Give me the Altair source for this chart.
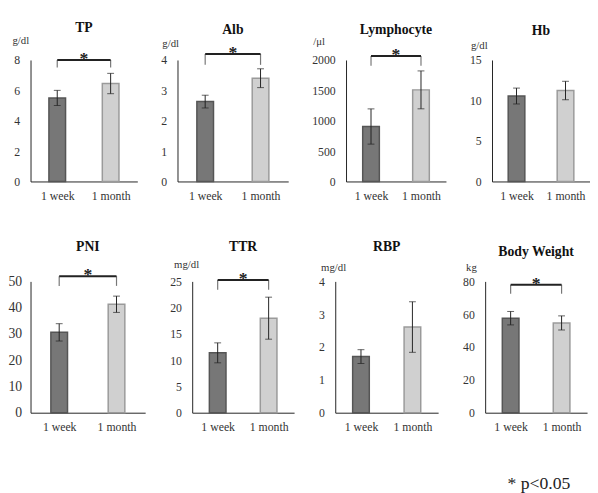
import altair as alt
import pandas as pd

# ---------------- data ----------------
titles = ["TP", "Alb", "Lymphocyte", "Hb", "PNI", "TTR", "RBP", "Body Weight"]
units = ["g/dl", "g/dl", "/μl", "g/dl", "", "mg/dl", "mg/dl", "kg"]
groups = ["1 week", "1 month"]
y_max = [8, 4, 2000, 15, 50, 25, 4, 80]
y_step = [2, 1, 500, 5, 10, 5, 1, 20]
week_mean = [5.5, 2.63, 905, 10.55, 30.6, 11.4, 1.71, 57.6]
week_err = [0.5, 0.21, 290, 0.98, 3.3, 1.9, 0.21, 4.1]
month_mean = [6.45, 3.40, 1508, 11.23, 41.3, 18.0, 2.61, 54.7]
month_err = [0.67, 0.31, 312, 1.14, 3.1, 4.0, 0.77, 4.3]
significant = [True, True, True, False, True, True, False, True]
bracket_top = [8.0, 4.2, 2064, 0, 52, 25.25, 0, 78]
bracket_bottom = [7.5, 3.84, 1904, 0, 48.3, 23.4, 0, 72.5]
star = "*"
footnote = "* p<0.05"

# ---------------- layout / style ----------------
widths = [109, 113, 102, 100, 117, 104, 105, 104]
row_heights = [124, 134]
row_spacing = [24, 25]
title_dy = [-33, -31, -31, -29, -35, -35, -35, -30]
unit_x = [-19, -16, -34, -22, 0, -19, -15, -20]
unit_y = [-20, -17, -19, -15, 0, -17, -14, -14]
label_sizes = [12, 12, 12, 12, 14, 12, 12, 12]
label_pads = [11, 11, 11, 11, 9, 11, 11, 11]
FONT = "Liberation Serif"
fills = ["#777777", "#d0d0d0"]
strokes = ["#555555", "#9a9a9a"]

label_expr = " : ".join(
    [f"datum.value == {k} ? '{g}'" for k, g in enumerate(groups[:-1])] + [f"'{groups[-1]}'"]
)


def panel(i, height):
    means = [week_mean[i], month_mean[i]]
    errs = [week_err[i], month_err[i]]
    df = pd.DataFrame({
        "x": list(range(len(groups))),
        "g": groups,
        "mean": means,
        "lo": [m - e for m, e in zip(means, errs)],
        "hi": [m + e for m, e in zip(means, errs)],
    })
    xscale = alt.Scale(domain=[-0.5, len(groups) - 0.5], nice=False, padding=0)
    yscale = alt.Scale(domain=[0, y_max[i]], nice=False, padding=0)
    xaxis = alt.Axis(values=list(range(len(groups))), labelExpr=label_expr, title=None,
                     ticks=False, grid=False, domainColor="#222", domainWidth=1,
                     labelFont=FONT, labelFontSize=12, labelColor="#333",
                     labelPadding=9)
    yaxis_kw = dict(values=list(range(0, y_max[i] + 1, y_step[i])), format="d",
                    ticks=False, grid=False, domainColor="#222", domainWidth=1,
                    labelFont=FONT, labelFontSize=label_sizes[i], labelColor="#333",
                    labelPadding=label_pads[i])
    if units[i]:
        yaxis_kw.update(title=units[i], titleAngle=0, titleAlign="left",
                        titleBaseline="middle", titleX=unit_x[i], titleY=unit_y[i],
                        titleFont=FONT, titleFontSize=11, titleFontWeight="normal",
                        titleColor="#333")
    else:
        yaxis_kw.update(title=None)
    yaxis = alt.Axis(**yaxis_kw)

    def X(f):
        return alt.X(f, scale=xscale, axis=xaxis)

    def Y(f):
        return alt.Y(f, scale=yscale, axis=yaxis)

    base = alt.Chart(df)
    bars = base.mark_bar(size=17, strokeWidth=1.5).encode(
        x=X("x:Q"),
        y=Y("mean:Q"),
        fill=alt.Fill("g:N", scale=alt.Scale(domain=groups, range=fills), legend=None),
        stroke=alt.Stroke("g:N", scale=alt.Scale(domain=groups, range=strokes), legend=None),
    )
    err = base.mark_rule(color="#222", strokeWidth=1).encode(
        x=X("x:Q"), y=Y("lo:Q"), y2="hi:Q")
    cap_lo = base.mark_tick(orient="horizontal", size=7, thickness=1, color="#222").encode(
        x=X("x:Q"), y=Y("lo:Q"))
    cap_hi = base.mark_tick(orient="horizontal", size=7, thickness=1, color="#222").encode(
        x=X("x:Q"), y=Y("hi:Q"))

    tdf = pd.DataFrame({"tx": [(len(groups) - 1) / 2], "ty": [y_max[i]], "t": [titles[i]]})
    ttl = alt.Chart(tdf).mark_text(font=FONT, fontSize=14, fontWeight="bold",
                                   baseline="middle", align="center",
                                   dy=title_dy[i], color="#111").encode(
        x=X("tx:Q"), y=Y("ty:Q"), text="t:N")
    layers = [bars, err, cap_lo, cap_hi, ttl]

    if significant[i]:
        bdf = pd.DataFrame({"x0": [0], "x1": [len(groups) - 1], "top": [bracket_top[i]],
                            "sx": [(len(groups) - 1) / 2], "s": [star]})
        vdf = pd.DataFrame({"x": [0, len(groups) - 1], "top": [bracket_top[i]] * 2,
                            "bottom": [bracket_bottom[i]] * 2})
        horiz = alt.Chart(bdf).mark_rule(color="#222", strokeWidth=2).encode(
            x=X("x0:Q"), x2="x1:Q", y=Y("top:Q"))
        verts = alt.Chart(vdf).mark_rule(color="#777", strokeWidth=1.2).encode(
            x=X("x:Q"), y=Y("bottom:Q"), y2="top:Q")
        st = alt.Chart(bdf).mark_text(font=FONT, fontSize=18, fontWeight="bold",
                                      baseline="alphabetic", dy=4, color="#222").encode(
            x=X("sx:Q"), y=Y("top:Q"), text="s:N")
        layers += [verts, horiz, st]

    return alt.layer(*layers).properties(width=widths[i], height=height)


row1 = alt.hconcat(*[panel(i, row_heights[0]) for i in range(0, 4)], spacing=row_spacing[0])
row2 = alt.hconcat(*[panel(i, row_heights[1]) for i in range(4, 8)], spacing=row_spacing[1])

chart = alt.vconcat(row1, row2, spacing=40).properties(
    title=alt.TitleParams(footnote, orient="bottom", anchor="end", font=FONT,
                          fontSize=18, fontWeight="normal", color="#222",
                          offset=44, dx=-20),
    padding={"left": 0, "top": 8, "right": 0, "bottom": 0},
).configure_view(stroke=None)

chart.save("out.html", embed_options={"renderer": "svg", "actions": False})
